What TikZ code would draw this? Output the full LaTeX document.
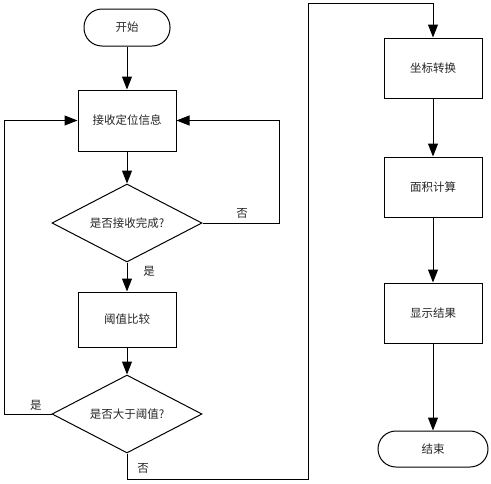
\documentclass[tikz,border=0pt]{standalone}
\usepackage{fontspec}
\setmainfont{Noto Sans CJK SC}
\usetikzlibrary{arrows.meta,shapes.geometric}
\begin{document}
\begin{tikzpicture}[x=1pt,y=-1pt,
  every node/.style={font=\fontsize{11.5}{13}\selectfont, inner sep=0pt, text=black!85},
  line/.style={line width=1pt},
  arr/.style={line width=1pt,-{Triangle[length=13pt,width=10pt]}},
  procbox/.style={draw,line width=1pt,minimum width=98pt},
  term/.style={draw,line width=1pt,rounded corners=18pt},
  decision/.style={draw,line width=1pt,diamond,aspect=1.92,minimum width=150pt,minimum height=78pt}
]
\useasboundingbox (0,0) rectangle (491,483);
\node[term,minimum width=86pt,minimum height=37pt] (start) at (127,27.5) {开始};
\node[procbox,minimum height=61pt] (recv) at (127,120.5) {接收定位信息};
\node[decision] (d1) at (127,223) {是否接收完成?};
\node[procbox,minimum height=55pt] (cmp) at (127,319.5) {阈值比较};
\node[decision] (d2) at (127,414) {是否大于阈值?};
\node[procbox,minimum height=60pt] (conv) at (433,68) {坐标转换};
\node[procbox,minimum height=60pt] (area) at (433,187) {面积计算};
\node[procbox,minimum height=60pt] (show) at (433,313) {显示结果};
\node[term,minimum width=110pt,minimum height=36pt] (end) at (433,449) {结束};

\coordinate (r1) at (279,223);
\coordinate (r2) at (279,120.5);
\coordinate (l1) at (4,414);
\coordinate (l2) at (4,120.5);
\coordinate (b1) at (127,479);
\coordinate (b2) at (308,479);
\coordinate (b3) at (308,3);
\coordinate (b4) at (433,3);

\draw[arr] (start) -- (recv);
\draw[arr] (recv) -- (d1);
\draw[arr] (d1) -- (cmp);
\draw[arr] (cmp) -- (d2);
\draw[arr] (d1.east) -- (r1) -- (r2) -- (recv.east);
\draw[arr] (d2.west) -- (l1) -- (l2) -- (recv.west);
\draw[arr] (d2.south) -- (b1) -- (b2) -- (b3) -- (b4) -- (conv.north);
\draw[arr] (conv) -- (area);
\draw[arr] (area) -- (show);
\draw[arr] (show) -- (end);

\node (n1) at (242,213) {否};
\node (y1) at (149,271) {是};
\node (y2) at (36,405) {是};
\node (n2) at (143,468) {否};
\end{tikzpicture}
\end{document}
